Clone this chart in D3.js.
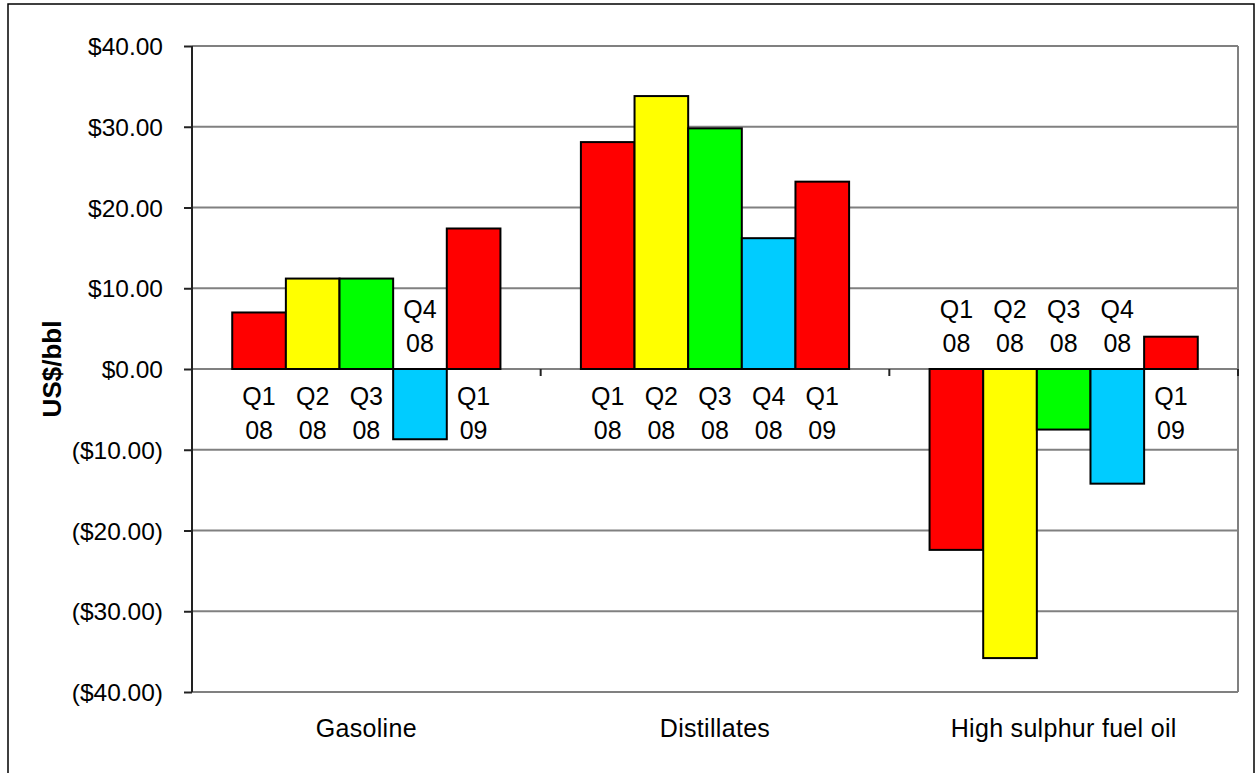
<!DOCTYPE html>
<html>
<head>
<meta charset="utf-8">
<script src="https://cdn.jsdelivr.net/npm/d3@7"></script>
<style>
  html, body { margin: 0; padding: 0; background: #fff; }
  svg text { font-family: "Liberation Sans", Arial, sans-serif; fill: #000; }
</style>
</head>
<body>
<svg id="chart" width="1256" height="773"></svg>
<script>
// Crack spreads by product and quarter (US$/bbl)
const categories = ["Gasoline", "Distillates", "High sulphur fuel oil"];
const quarters = ["Q1 08", "Q2 08", "Q3 08", "Q4 08", "Q1 09"];
const gasoline = [7.0, 11.2, 11.2, -8.7, 17.4];
const distillates = [28.1, 33.8, 29.8, 16.2, 23.2];
const highSulphurFuelOil = [-22.4, -35.8, -7.5, -14.2, 4.0];
const yTicks = [40, 30, 20, 10, 0, -10, -20, -30, -40];
const quarterColors = ["#ff0000", "#ffff00", "#00ff00", "#00ccff", "#ff0000"];

const seriesByCategory = [gasoline, distillates, highSulphurFuelOil];

const svg = d3.select("#chart");
const plot = { left: 192, right: 1238, top: 46, bottom: 692 };

// Outer chart frame
svg.append("rect")
  .attr("x", 8).attr("y", 4)
  .attr("width", 1246).attr("height", 820)
  .attr("fill", "#fff").attr("stroke", "#000").attr("stroke-width", 1.5);

const y = d3.scaleLinear().domain([-40, 40]).range([plot.bottom, plot.top]);
const x0 = d3.scaleBand().domain(categories).range([plot.left, plot.right]).padding(0);
const x1 = d3.scaleBand().domain(quarters).range([0, x0.bandwidth()])
  .paddingInner(0).paddingOuter(0.75);

// Horizontal gridlines
svg.append("g")
  .selectAll("line")
  .data(yTicks)
  .join("line")
  .attr("x1", plot.left).attr("x2", plot.right)
  .attr("y1", d => y(d)).attr("y2", d => y(d))
  .attr("stroke", "#808080").attr("stroke-width", 2);

// Right border of the plot area
svg.append("line")
  .attr("x1", plot.right).attr("x2", plot.right)
  .attr("y1", plot.top).attr("y2", plot.bottom)
  .attr("stroke", "#808080").attr("stroke-width", 2);

// Value axis
const fmt = v => v < 0 ? "($" + Math.abs(v).toFixed(2) + ")" : "$" + v.toFixed(2);
const yAxis = svg.append("g")
  .attr("transform", `translate(${plot.left},0)`)
  .call(d3.axisLeft(y).tickValues(yTicks).tickFormat(fmt).tickSize(8).tickPadding(21));
yAxis.select(".domain").attr("stroke", "#222").attr("stroke-width", 2)
  .attr("d", `M0,${plot.top}V${plot.bottom}`);
yAxis.selectAll(".tick line").attr("stroke", "#222").attr("stroke-width", 2);
yAxis.selectAll(".tick text")
  .style("font-size", "24.5px")
  .attr("dy", "0.35em");

// Category axis tick marks along the zero line
const catTicks = [plot.left, ...categories.slice(1).map(c => x0(c)), plot.right];
svg.append("g")
  .selectAll("line")
  .data(catTicks)
  .join("line")
  .attr("x1", d => d).attr("x2", d => d)
  .attr("y1", y(0)).attr("y2", y(0) + 7)
  .attr("stroke", "#222").attr("stroke-width", 2);

// Bars
const groups = svg.append("g")
  .selectAll("g")
  .data(categories.map((c, i) => ({ cat: c, values: seriesByCategory[i] })))
  .join("g")
  .attr("transform", d => `translate(${x0(d.cat)},0)`);

groups.selectAll("rect")
  .data(d => d.values.map((v, j) => ({ q: quarters[j], v, j })))
  .join("rect")
  .attr("x", d => x1(d.q))
  .attr("width", x1.bandwidth())
  .attr("y", d => y(Math.max(0, d.v)))
  .attr("height", d => Math.abs(y(d.v) - y(0)))
  .attr("fill", d => quarterColors[d.j])
  .attr("stroke", "#000").attr("stroke-width", 2);

// Quarter labels on the opposite side of the zero line from each bar
groups.selectAll("text.qlabel")
  .data(d => d.values.map((v, j) => ({ q: quarters[j], v })))
  .join("text")
  .attr("class", "qlabel")
  .attr("x", d => x1(d.q) + x1.bandwidth() / 2)
  .attr("text-anchor", "middle")
  .style("font-size", "25px")
  .each(function (d) {
    const parts = d.q.split(" ");
    const base = d.v >= 0 ? y(0) + 27 : y(0) - 60;
    d3.select(this).selectAll("tspan")
      .data(parts)
      .join("tspan")
      .attr("x", x1(d.q) + x1.bandwidth() / 2)
      .attr("y", (p, k) => base + k * 34)
      .attr("dy", "0.35em")
      .text(p => p);
  });

// Category names below the plot
svg.append("g")
  .selectAll("text")
  .data(categories)
  .join("text")
  .attr("x", d => x0(d) + x0.bandwidth() / 2)
  .attr("y", 728)
  .attr("dy", "0.35em")
  .attr("text-anchor", "middle")
  .style("font-size", "25px")
  .style("letter-spacing", "0.3px")
  .text(d => d);

// Value axis title
svg.append("text")
  .attr("transform", `translate(52,${y(0)}) rotate(-90)`)
  .attr("text-anchor", "middle")
  .attr("dy", "0.35em")
  .style("font-size", "26px")
  .style("font-weight", "bold")
  .text("US$/bbl");
</script>
</body>
</html>
